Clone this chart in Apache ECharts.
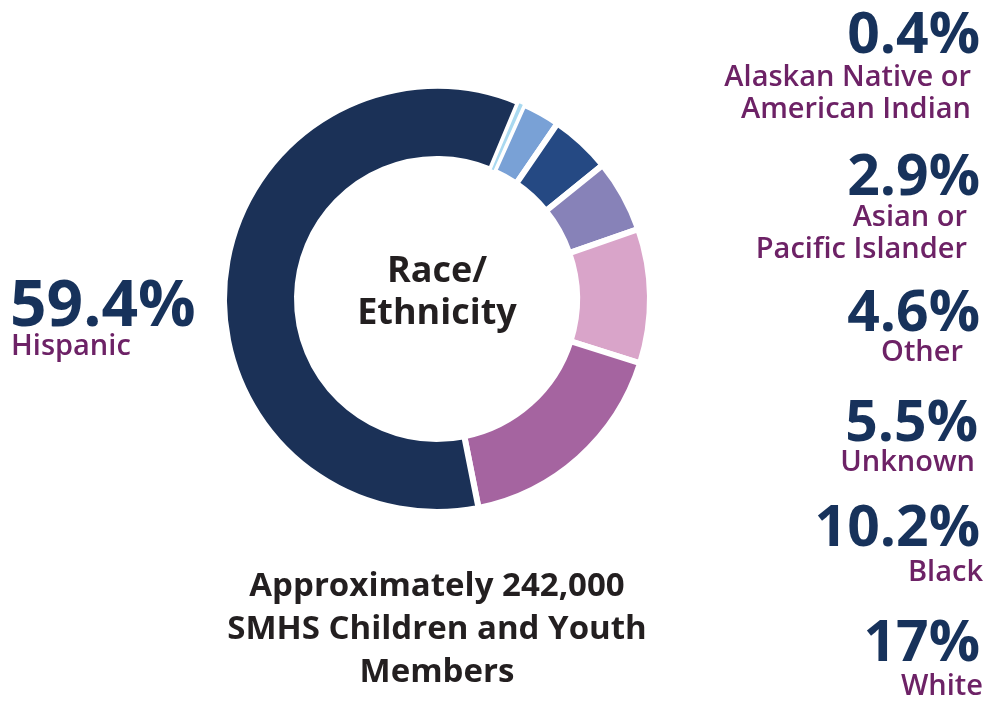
<!DOCTYPE html>
<html>
<head>
<meta charset="utf-8">
<script src="https://cdn.jsdelivr.net/npm/echarts@6/dist/echarts.min.js"></script>
<style>
  html, body { margin: 0; padding: 0; background: #fff; }
  #main { width: 991px; height: 702px; }
</style>
</head>
<body>
<div id="main"></div>
<script>
// data, clockwise from the top of the ring
const categories = ['Alaskan Native or\nAmerican Indian', 'Asian or\nPacific Islander', 'Other', 'Unknown', 'Black', 'White', 'Hispanic'];
const percents = [0.4, 2.9, 4.6, 5.5, 10.2, 17, 59.4];
const centerTitle = 'Race/\nEthnicity';
const footNote = 'Approximately 242,000\nSMHS Children and Youth\nMembers';

const colors = ['#a9d9f0', '#79a1d6', '#254983', '#8782b8', '#d9a4c9', '#a564a0', '#1b3157'];
const NAVY = '#17325b';
const PURPLE = '#6d2266';
const FONT = '"Open Sans", "Noto Sans", sans-serif';

// where each callout sits: [number right x, number baseline, label right x, label first baseline]
const calloutPos = [
  [980, 55, 971, 88],
  [980, 197, 967, 228],
  [980, 333, 963, 363],
  [978, 443, 975, 473],
  [980, 548, 983, 583],
  [980, 663, 983, 697]
];

const chart = echarts.init(document.getElementById('main'));

// the tiny slice is drawn last so its neighbours' white borders do not swallow it
const pieData = percents.map((v, i) => ({
  name: categories[i],
  value: v,
  itemStyle: { color: colors[i], borderWidth: i === 0 ? 1.5 : 6 }
}));
const ordered = pieData.slice(1).concat(pieData.slice(0, 1));
const startAt = 67.4 - percents[0] / 100 * 360;

const graphics = [];
calloutPos.forEach((p, i) => {
  graphics.push({
    type: 'text', x: p[0], y: p[1] + 10,
    style: {
      text: percents[i] + '%', fill: NAVY, font: 'bold 57px ' + FONT,
      align: 'right', verticalAlign: 'bottom'
    }
  });
  graphics.push({
    type: 'text', x: p[2], y: p[3] - 26,
    style: {
      text: categories[i], fill: PURPLE, font: '600 29px ' + FONT,
      align: 'right', verticalAlign: 'top', lineHeight: 32
    }
  });
});
// Hispanic callout on the left
graphics.push({
  type: 'text', x: 10, y: 340,
  style: {
    text: percents[6] + '%', fill: NAVY, font: 'bold 64px ' + FONT,
    align: 'left', verticalAlign: 'bottom'
  }
});
graphics.push({
  type: 'text', x: 11, y: 332,
  style: {
    text: categories[6], fill: PURPLE, font: '600 29px ' + FONT,
    align: 'left', verticalAlign: 'top'
  }
});
graphics.push({
  type: 'text', x: 437, y: 293,
  style: {
    text: centerTitle, fill: '#231f20', font: 'bold 36px ' + FONT,
    align: 'center', verticalAlign: 'middle', lineHeight: 42
  }
});
graphics.push({
  type: 'text', x: 437, y: 630,
  style: {
    text: footNote, fill: '#231f20', font: 'bold 33px ' + FONT,
    align: 'center', verticalAlign: 'middle', lineHeight: 43
  }
});

chart.setOption({
  animation: false,
  backgroundColor: '#fff',
  series: [{
    type: 'pie',
    center: [437, 299],
    radius: [140, 213],
    startAngle: startAt,
    clockwise: true,
    label: { show: false },
    labelLine: { show: false },
    emphasis: { disabled: true },
    itemStyle: { borderColor: '#fff' },
    data: ordered
  }],
  graphic: graphics
});
</script>
</body>
</html>
